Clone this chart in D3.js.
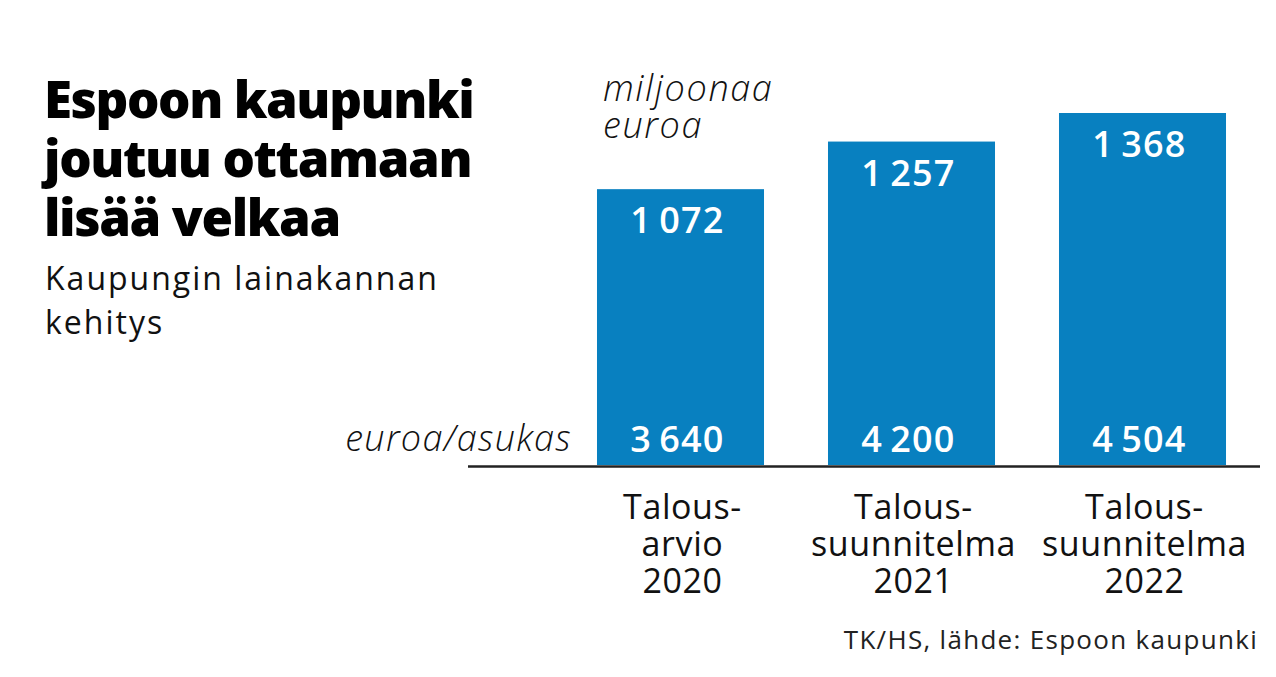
<!DOCTYPE html>
<html><head><meta charset="utf-8">
<script src="https://cdn.jsdelivr.net/npm/d3@7"></script>
<style>body{margin:0;background:#fff}svg{display:block}text{font-family:"Open Sans","Noto Sans",sans-serif}</style>
</head><body>
<script>
const categories = [["Talous-","arvio","2020"],["Talous-","suunnitelma","2021"],["Talous-","suunnitelma","2022"]];
const keys = ["2020","2021","2022"];
const debtMillions = [1072,1257,1368];
const perResident = [3640,4200,4504];
const titleLines = ["Espoon kaupunki","joutuu ottamaan","lisää velkaa"];
const subtitleLines = ["Kaupungin lainakannan","kehitys"];
const unitTopLines = ["miljoonaa","euroa"];

const W=1276,H=677;
const svg=d3.select("body").append("svg").attr("width",W).attr("height",H);
const fmt = v => { const s=String(v); return s.length>3 ? s.slice(0,-3)+"\u2009"+s.slice(-3) : s; };

const x=d3.scaleBand().domain(keys).range([565,1258]).paddingInner(0.277).paddingOuter(0.1385);
const baseY=465;
const y=d3.scaleLinear().domain([0,1368]).range([baseY,113]);

svg.selectAll("rect.bar").data(debtMillions).join("rect").attr("class","bar")
  .attr("x",(d,i)=>x(keys[i])).attr("width",x.bandwidth())
  .attr("y",d=>y(d)).attr("height",d=>baseY-y(d)).attr("fill","#0880c0");

svg.append("line").attr("x1",468).attr("x2",1260).attr("y1",baseY+1.5).attr("y2",baseY+1.5)
  .attr("stroke","#222").attr("stroke-width",2.5);

svg.selectAll("text.top").data(debtMillions).join("text").attr("class","top")
  .attr("x",(d,i)=>x(keys[i])+x.bandwidth()/2-3).attr("y",d=>y(d)+44)
  .attr("text-anchor","middle").attr("fill","#fff").attr("font-weight",600).attr("font-size",36).attr("letter-spacing",1.2)
  .text(fmt);
svg.selectAll("text.bot").data(perResident).join("text").attr("class","bot")
  .attr("x",(d,i)=>x(keys[i])+x.bandwidth()/2-3).attr("y",452)
  .attr("text-anchor","middle").attr("fill","#fff").attr("font-weight",600).attr("font-size",36).attr("letter-spacing",1.2)
  .text(fmt);

categories.forEach((lines,i)=>{
  const t=svg.append("text").attr("text-anchor","middle").attr("font-size",34).attr("letter-spacing",0.6).attr("fill","#111");
  lines.forEach((s,j)=>{
    t.append("tspan").attr("x",x(keys[i])+x.bandwidth()/2+2).attr("y",519+j*37).text(s);
  });
});

const u=svg.append("text").attr("font-style","italic").attr("font-weight",300).attr("font-size",36).attr("fill","#111").attr("letter-spacing",1.6);
unitTopLines.forEach((s,j)=>u.append("tspan").attr("x",603).attr("y",101+j*37).text(s));
svg.append("text").attr("x",572).attr("y",451).attr("text-anchor","end").attr("font-style","italic").attr("font-weight",300)
  .attr("font-size",36).attr("letter-spacing",1.3).attr("fill","#111").text("euroa/asukas");

const tt=svg.append("text").attr("font-weight",800).attr("font-size",51).attr("letter-spacing",-1.4).attr("fill","#000");
titleLines.forEach((s,i)=>tt.append("tspan").attr("x",44).attr("y",118+i*59).text(s));
const st=svg.append("text").attr("font-size",32).attr("letter-spacing",2).attr("fill","#111");
subtitleLines.forEach((s,i)=>st.append("tspan").attr("x",45).attr("y",290+i*44).text(s));
svg.append("text").attr("x",1258).attr("y",649).attr("text-anchor","end").attr("font-size",26).attr("letter-spacing",1.3).attr("fill","#222")
  .text("TK/HS, lähde: Espoon kaupunki");
</script>
</body></html>
